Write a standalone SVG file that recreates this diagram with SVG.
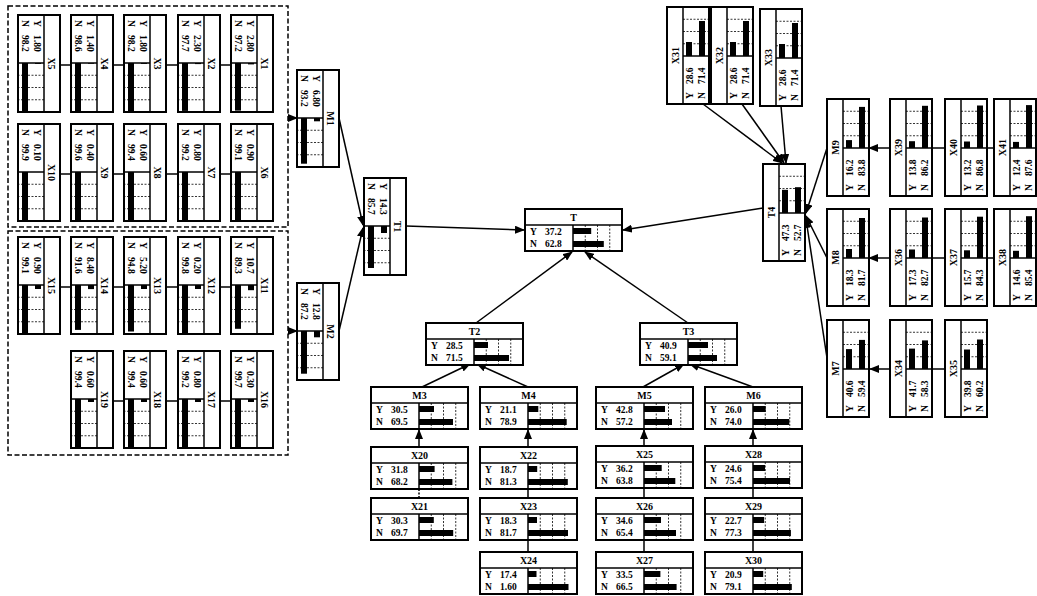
<svg xmlns="http://www.w3.org/2000/svg" xmlns:xlink="http://www.w3.org/1999/xlink" width="1037" height="596" viewBox="0 0 1037 596">
<style>
.box{fill:#fff;stroke:#000;stroke-width:2}
.div{stroke:#000;stroke-width:1.5;fill:none}
.grid{stroke:#000;stroke-width:0.8;stroke-dasharray:2 1.5;fill:none}
.ttl{font-family:"Liberation Serif",serif;font-weight:bold;font-size:10px;text-anchor:middle}
.lbl{font-family:"Liberation Serif",serif;font-weight:bold;font-size:9.5px}
.bar{fill:#000}
.con{stroke:#000;stroke-width:1.5;fill:none}
.arr{stroke:#000;stroke-width:1.5;fill:none;marker-end:url(#ah)}
.grp{fill:none;stroke:#000;stroke-width:1.5;stroke-dasharray:5 2.5}
</style>
<defs>
<marker id="ah" markerUnits="userSpaceOnUse" markerWidth="10" markerHeight="8" refX="9" refY="4" orient="auto"><path d="M0,0 L10,4 L0,8 Z" fill="#000"/></marker>
<g id="frame">
<rect class="box" x="0" y="0" width="97" height="42"/>
<line class="div" x1="0" y1="16" x2="97" y2="16"/>
<line class="div" x1="48" y1="16" x2="48" y2="42"/>
<path class="grid" d="M60.25 16V42M72.5 16V42M84.75 16V42"/>
</g>
</defs>
<rect width="1037" height="596" fill="#fff"/>
<rect class="grp" x="8" y="6" width="280" height="221"/>
<rect class="grp" x="8" y="231" width="280" height="224"/>

<g id="connectors">
<path class="con" d="M60 65H71M113 65H124M166 65H178M220 65H231"/>
<path class="con" d="M60 174H71M113 174H124M166 174H178M220 174H231"/>
<path class="con" d="M60 287H71M113 287H124M166 287H178M220 287H231"/>
<path class="con" d="M113 401H124M166 401H178M220 401H231"/>
<path class="arr" d="M288 118H297"/>
<path class="arr" d="M288 331H297"/>
<path class="arr" d="M339 118L363 225"/>
<path class="arr" d="M339 331L363 228"/>
<path class="arr" d="M406 226L524 230"/>
<path class="arr" d="M476 323L572 252"/>
<path class="arr" d="M688 323L585 252"/>
<path class="arr" d="M763 208L623 230"/>
<path class="arr" d="M422 387L470 364"/>
<path class="arr" d="M528 387L477 364"/>
<path class="arr" d="M643 387L684 364"/>
<path class="arr" d="M753 387L690 364"/>
<path class="arr" d="M419 447V430"/>
<path class="con" d="M419 498V489" stroke-dasharray="2 1.5"/>
<path class="arr" d="M528 447V430"/>
<path class="con" d="M528 498V489M528 552V540"/>
<path class="arr" d="M644 446V430"/>
<path class="con" d="M644 498V488M644 552V540"/>
<path class="arr" d="M753 446V430"/>
<path class="con" d="M753 498V488M753 552V540"/>
<path class="arr" d="M703 104L782 163"/>
<path class="arr" d="M742 104L784 163"/>
<path class="arr" d="M781 106L786 163"/>
<path class="arr" d="M827 148L806 213"/>
<path class="arr" d="M827 258L806 216"/>
<path class="arr" d="M827 358L806 219"/>
<path class="arr" d="M890 148H869"/>
<path class="con" d="M945 148H932M994 148H987"/>
<path class="arr" d="M890 258H869"/>
<path class="con" d="M945 258H932M994 258H987"/>
<path class="arr" d="M890 369H870"/>
<path class="con" d="M945 369H933"/>
</g>

<!-- horizontal nodes -->
<g id="T" transform="translate(525,209)"><use href="#frame"/><text class="ttl" x="48.5" y="12">T</text><text class="lbl" x="5" y="26">Y</text><text class="lbl" x="20" y="26">37.2</text><text class="lbl" x="5" y="38">N</text><text class="lbl" x="20" y="38">62.8</text><rect class="bar" x="48" y="19" width="18.2" height="6"/><rect class="bar" x="48" y="32" width="30.8" height="6"/></g>
<g id="T2" transform="translate(426,323)"><use href="#frame"/><text class="ttl" x="48.5" y="12">T2</text><text class="lbl" x="5" y="26">Y</text><text class="lbl" x="20" y="26">28.5</text><text class="lbl" x="5" y="38">N</text><text class="lbl" x="20" y="38">71.5</text><rect class="bar" x="48" y="19" width="14" height="6"/><rect class="bar" x="48" y="32" width="35" height="6"/></g>
<g id="T3" transform="translate(640,323)"><use href="#frame"/><text class="ttl" x="48.5" y="12">T3</text><text class="lbl" x="5" y="26">Y</text><text class="lbl" x="20" y="26">40.9</text><text class="lbl" x="5" y="38">N</text><text class="lbl" x="20" y="38">59.1</text><rect class="bar" x="48" y="19" width="20" height="6"/><rect class="bar" x="48" y="32" width="29" height="6"/></g>
<g id="M3" transform="translate(371,387)"><use href="#frame"/><text class="ttl" x="48.5" y="12">M3</text><text class="lbl" x="5" y="26">Y</text><text class="lbl" x="20" y="26">30.5</text><text class="lbl" x="5" y="38">N</text><text class="lbl" x="20" y="38">69.5</text><rect class="bar" x="48" y="19" width="15" height="6"/><rect class="bar" x="48" y="32" width="34" height="6"/></g>
<g id="M4" transform="translate(480,387)"><use href="#frame"/><text class="ttl" x="48.5" y="12">M4</text><text class="lbl" x="5" y="26">Y</text><text class="lbl" x="20" y="26">21.1</text><text class="lbl" x="5" y="38">N</text><text class="lbl" x="20" y="38">78.9</text><rect class="bar" x="48" y="19" width="10.3" height="6"/><rect class="bar" x="48" y="32" width="38.7" height="6"/></g>
<g id="M5" transform="translate(596,387)"><use href="#frame"/><text class="ttl" x="48.5" y="12">M5</text><text class="lbl" x="5" y="26">Y</text><text class="lbl" x="20" y="26">42.8</text><text class="lbl" x="5" y="38">N</text><text class="lbl" x="20" y="38">57.2</text><rect class="bar" x="48" y="19" width="21" height="6"/><rect class="bar" x="48" y="32" width="28" height="6"/></g>
<g id="M6" transform="translate(705,387)"><use href="#frame"/><text class="ttl" x="48.5" y="12">M6</text><text class="lbl" x="5" y="26">Y</text><text class="lbl" x="20" y="26">26.0</text><text class="lbl" x="5" y="38">N</text><text class="lbl" x="20" y="38">74.0</text><rect class="bar" x="48" y="19" width="12.7" height="6"/><rect class="bar" x="48" y="32" width="36.3" height="6"/></g>
<g id="X20" transform="translate(371,447)"><use href="#frame"/><text class="ttl" x="48.5" y="12">X20</text><text class="lbl" x="5" y="26">Y</text><text class="lbl" x="20" y="26">31.8</text><text class="lbl" x="5" y="38">N</text><text class="lbl" x="20" y="38">68.2</text><rect class="bar" x="48" y="19" width="15.6" height="6"/><rect class="bar" x="48" y="32" width="33.4" height="6"/></g>
<g id="X21" transform="translate(371,498)"><use href="#frame"/><text class="ttl" x="48.5" y="12">X21</text><text class="lbl" x="5" y="26">Y</text><text class="lbl" x="20" y="26">30.3</text><text class="lbl" x="5" y="38">N</text><text class="lbl" x="20" y="38">69.7</text><rect class="bar" x="48" y="19" width="14.8" height="6"/><rect class="bar" x="48" y="32" width="34.2" height="6"/></g>
<g id="X22" transform="translate(480,447)"><use href="#frame"/><text class="ttl" x="48.5" y="12">X22</text><text class="lbl" x="5" y="26">Y</text><text class="lbl" x="20" y="26">18.7</text><text class="lbl" x="5" y="38">N</text><text class="lbl" x="20" y="38">81.3</text><rect class="bar" x="48" y="19" width="9.2" height="6"/><rect class="bar" x="48" y="32" width="39.8" height="6"/></g>
<g id="X23" transform="translate(480,498)"><use href="#frame"/><text class="ttl" x="48.5" y="12">X23</text><text class="lbl" x="5" y="26">Y</text><text class="lbl" x="20" y="26">18.3</text><text class="lbl" x="5" y="38">N</text><text class="lbl" x="20" y="38">81.7</text><rect class="bar" x="48" y="19" width="9" height="6"/><rect class="bar" x="48" y="32" width="40" height="6"/></g>
<g id="X24" transform="translate(480,552)"><use href="#frame"/><text class="ttl" x="48.5" y="12">X24</text><text class="lbl" x="5" y="26">Y</text><text class="lbl" x="20" y="26">17.4</text><text class="lbl" x="5" y="38">N</text><text class="lbl" x="20" y="38">1.60</text><rect class="bar" x="48" y="19" width="8.5" height="6"/><rect class="bar" x="48" y="32" width="40.5" height="6"/></g>
<g id="X25" transform="translate(596,446)"><use href="#frame"/><text class="ttl" x="48.5" y="12">X25</text><text class="lbl" x="5" y="26">Y</text><text class="lbl" x="20" y="26">36.2</text><text class="lbl" x="5" y="38">N</text><text class="lbl" x="20" y="38">63.8</text><rect class="bar" x="48" y="19" width="17.7" height="6"/><rect class="bar" x="48" y="32" width="31.3" height="6"/></g>
<g id="X26" transform="translate(596,498)"><use href="#frame"/><text class="ttl" x="48.5" y="12">X26</text><text class="lbl" x="5" y="26">Y</text><text class="lbl" x="20" y="26">34.6</text><text class="lbl" x="5" y="38">N</text><text class="lbl" x="20" y="38">65.4</text><rect class="bar" x="48" y="19" width="17" height="6"/><rect class="bar" x="48" y="32" width="32" height="6"/></g>
<g id="X27" transform="translate(596,552)"><use href="#frame"/><text class="ttl" x="48.5" y="12">X27</text><text class="lbl" x="5" y="26">Y</text><text class="lbl" x="20" y="26">33.5</text><text class="lbl" x="5" y="38">N</text><text class="lbl" x="20" y="38">66.5</text><rect class="bar" x="48" y="19" width="16.4" height="6"/><rect class="bar" x="48" y="32" width="32.6" height="6"/></g>
<g id="X28" transform="translate(705,446)"><use href="#frame"/><text class="ttl" x="48.5" y="12">X28</text><text class="lbl" x="5" y="26">Y</text><text class="lbl" x="20" y="26">24.6</text><text class="lbl" x="5" y="38">N</text><text class="lbl" x="20" y="38">75.4</text><rect class="bar" x="48" y="19" width="12" height="6"/><rect class="bar" x="48" y="32" width="37" height="6"/></g>
<g id="X29" transform="translate(705,498)"><use href="#frame"/><text class="ttl" x="48.5" y="12">X29</text><text class="lbl" x="5" y="26">Y</text><text class="lbl" x="20" y="26">22.7</text><text class="lbl" x="5" y="38">N</text><text class="lbl" x="20" y="38">77.3</text><rect class="bar" x="48" y="19" width="11.1" height="6"/><rect class="bar" x="48" y="32" width="37.9" height="6"/></g>
<g id="X30" transform="translate(705,552)"><use href="#frame"/><text class="ttl" x="48.5" y="12">X30</text><text class="lbl" x="5" y="26">Y</text><text class="lbl" x="20" y="26">20.9</text><text class="lbl" x="5" y="38">N</text><text class="lbl" x="20" y="38">79.1</text><rect class="bar" x="48" y="19" width="10.2" height="6"/><rect class="bar" x="48" y="32" width="38.8" height="6"/></g>

<!-- left nodes, rotated clockwise -->
<g id="X5" transform="translate(60,15) rotate(90)"><use href="#frame"/><text class="ttl" x="48.5" y="12">X5</text><text class="lbl" x="5" y="26">Y</text><text class="lbl" x="20" y="26">1.80</text><text class="lbl" x="5" y="38">N</text><text class="lbl" x="20" y="38">98.2</text><rect class="bar" x="48" y="19" width="0.9" height="6"/><rect class="bar" x="48" y="32" width="48.1" height="6"/></g>
<g id="X4" transform="translate(113,15) rotate(90)"><use href="#frame"/><text class="ttl" x="48.5" y="12">X4</text><text class="lbl" x="5" y="26">Y</text><text class="lbl" x="20" y="26">1.40</text><text class="lbl" x="5" y="38">N</text><text class="lbl" x="20" y="38">98.6</text><rect class="bar" x="48" y="19" width="0.7" height="6"/><rect class="bar" x="48" y="32" width="48.3" height="6"/></g>
<g id="X3" transform="translate(166,15) rotate(90)"><use href="#frame"/><text class="ttl" x="48.5" y="12">X3</text><text class="lbl" x="5" y="26">Y</text><text class="lbl" x="20" y="26">1.80</text><text class="lbl" x="5" y="38">N</text><text class="lbl" x="20" y="38">98.2</text><rect class="bar" x="48" y="19" width="0.9" height="6"/><rect class="bar" x="48" y="32" width="48.1" height="6"/></g>
<g id="X2" transform="translate(220,15) rotate(90)"><use href="#frame"/><text class="ttl" x="48.5" y="12">X2</text><text class="lbl" x="5" y="26">Y</text><text class="lbl" x="20" y="26">2.30</text><text class="lbl" x="5" y="38">N</text><text class="lbl" x="20" y="38">97.7</text><rect class="bar" x="48" y="19" width="1.1" height="6"/><rect class="bar" x="48" y="32" width="47.9" height="6"/></g>
<g id="X1" transform="translate(273,15) rotate(90)"><use href="#frame"/><text class="ttl" x="48.5" y="12">X1</text><text class="lbl" x="5" y="26">Y</text><text class="lbl" x="20" y="26">2.80</text><text class="lbl" x="5" y="38">N</text><text class="lbl" x="20" y="38">97.2</text><rect class="bar" x="48" y="19" width="1.4" height="6"/><rect class="bar" x="48" y="32" width="47.6" height="6"/></g>
<g id="X10" transform="translate(60,124) rotate(90)"><use href="#frame"/><text class="ttl" x="48.5" y="12">X10</text><text class="lbl" x="5" y="26">Y</text><text class="lbl" x="20" y="26">0.10</text><text class="lbl" x="5" y="38">N</text><text class="lbl" x="20" y="38">99.9</text><rect class="bar" x="48" y="32" width="49" height="6"/></g>
<g id="X9" transform="translate(113,124) rotate(90)"><use href="#frame"/><text class="ttl" x="48.5" y="12">X9</text><text class="lbl" x="5" y="26">Y</text><text class="lbl" x="20" y="26">0.40</text><text class="lbl" x="5" y="38">N</text><text class="lbl" x="20" y="38">99.6</text><rect class="bar" x="48" y="32" width="48.8" height="6"/></g>
<g id="X8" transform="translate(166,124) rotate(90)"><use href="#frame"/><text class="ttl" x="48.5" y="12">X8</text><text class="lbl" x="5" y="26">Y</text><text class="lbl" x="20" y="26">0.60</text><text class="lbl" x="5" y="38">N</text><text class="lbl" x="20" y="38">99.4</text><rect class="bar" x="48" y="32" width="48.7" height="6"/></g>
<g id="X7" transform="translate(220,124) rotate(90)"><use href="#frame"/><text class="ttl" x="48.5" y="12">X7</text><text class="lbl" x="5" y="26">Y</text><text class="lbl" x="20" y="26">0.80</text><text class="lbl" x="5" y="38">N</text><text class="lbl" x="20" y="38">99.2</text><rect class="bar" x="48" y="32" width="48.6" height="6"/></g>
<g id="X6" transform="translate(273,124) rotate(90)"><use href="#frame"/><text class="ttl" x="48.5" y="12">X6</text><text class="lbl" x="5" y="26">Y</text><text class="lbl" x="20" y="26">0.90</text><text class="lbl" x="5" y="38">N</text><text class="lbl" x="20" y="38">99.1</text><rect class="bar" x="48" y="32" width="48.6" height="6"/></g>
<g id="X15" transform="translate(60,237) rotate(90)"><use href="#frame"/><text class="ttl" x="48.5" y="12">X15</text><text class="lbl" x="5" y="26">Y</text><text class="lbl" x="20" y="26">0.90</text><text class="lbl" x="5" y="38">N</text><text class="lbl" x="20" y="38">99.1</text><rect class="bar" x="48" y="19" width="4" height="6"/><rect class="bar" x="48" y="32" width="48.6" height="6"/></g>
<g id="X14" transform="translate(113,237) rotate(90)"><use href="#frame"/><text class="ttl" x="48.5" y="12">X14</text><text class="lbl" x="5" y="26">Y</text><text class="lbl" x="20" y="26">8.40</text><text class="lbl" x="5" y="38">N</text><text class="lbl" x="20" y="38">91.6</text><rect class="bar" x="48" y="19" width="4.1" height="6"/><rect class="bar" x="48" y="32" width="44.9" height="6"/></g>
<g id="X13" transform="translate(166,237) rotate(90)"><use href="#frame"/><text class="ttl" x="48.5" y="12">X13</text><text class="lbl" x="5" y="26">Y</text><text class="lbl" x="20" y="26">5.20</text><text class="lbl" x="5" y="38">N</text><text class="lbl" x="20" y="38">94.8</text><rect class="bar" x="48" y="19" width="4" height="6"/><rect class="bar" x="48" y="32" width="46.5" height="6"/></g>
<g id="X12" transform="translate(220,237) rotate(90)"><use href="#frame"/><text class="ttl" x="48.5" y="12">X12</text><text class="lbl" x="5" y="26">Y</text><text class="lbl" x="20" y="26">0.20</text><text class="lbl" x="5" y="38">N</text><text class="lbl" x="20" y="38">99.8</text><rect class="bar" x="48" y="19" width="4" height="6"/><rect class="bar" x="48" y="32" width="48.9" height="6"/></g>
<g id="X11" transform="translate(273,237) rotate(90)"><use href="#frame"/><text class="ttl" x="48.5" y="12">X11</text><text class="lbl" x="5" y="26">Y</text><text class="lbl" x="20" y="26">10.7</text><text class="lbl" x="5" y="38">N</text><text class="lbl" x="20" y="38">89.3</text><rect class="bar" x="48" y="19" width="5.2" height="6"/><rect class="bar" x="48" y="32" width="43.8" height="6"/></g>
<g id="X19" transform="translate(113,351) rotate(90)"><use href="#frame"/><text class="ttl" x="48.5" y="12">X19</text><text class="lbl" x="5" y="26">Y</text><text class="lbl" x="20" y="26">0.60</text><text class="lbl" x="5" y="38">N</text><text class="lbl" x="20" y="38">99.4</text><rect class="bar" x="48" y="19" width="3" height="6"/><rect class="bar" x="48" y="32" width="48.7" height="6"/></g>
<g id="X18" transform="translate(166,351) rotate(90)"><use href="#frame"/><text class="ttl" x="48.5" y="12">X18</text><text class="lbl" x="5" y="26">Y</text><text class="lbl" x="20" y="26">0.60</text><text class="lbl" x="5" y="38">N</text><text class="lbl" x="20" y="38">99.4</text><rect class="bar" x="48" y="19" width="3" height="6"/><rect class="bar" x="48" y="32" width="48.7" height="6"/></g>
<g id="X17" transform="translate(220,351) rotate(90)"><use href="#frame"/><text class="ttl" x="48.5" y="12">X17</text><text class="lbl" x="5" y="26">Y</text><text class="lbl" x="20" y="26">0.80</text><text class="lbl" x="5" y="38">N</text><text class="lbl" x="20" y="38">99.2</text><rect class="bar" x="48" y="19" width="3" height="6"/><rect class="bar" x="48" y="32" width="48.6" height="6"/></g>
<g id="X16" transform="translate(273,351) rotate(90)"><use href="#frame"/><text class="ttl" x="48.5" y="12">X16</text><text class="lbl" x="5" y="26">Y</text><text class="lbl" x="20" y="26">0.30</text><text class="lbl" x="5" y="38">N</text><text class="lbl" x="20" y="38">99.7</text><rect class="bar" x="48" y="19" width="3" height="6"/><rect class="bar" x="48" y="32" width="48.9" height="6"/></g>
<g id="M1" transform="translate(339,70) rotate(90)"><use href="#frame"/><text class="ttl" x="48.5" y="12">M1</text><text class="lbl" x="5" y="26">Y</text><text class="lbl" x="20" y="26">6.80</text><text class="lbl" x="5" y="38">N</text><text class="lbl" x="20" y="38">93.2</text><rect class="bar" x="48" y="19" width="3.3" height="6"/><rect class="bar" x="48" y="32" width="45.7" height="6"/></g>
<g id="M2" transform="translate(339,283) rotate(90)"><use href="#frame"/><text class="ttl" x="48.5" y="12">M2</text><text class="lbl" x="5" y="26">Y</text><text class="lbl" x="20" y="26">12.8</text><text class="lbl" x="5" y="38">N</text><text class="lbl" x="20" y="38">87.2</text><rect class="bar" x="48" y="19" width="6.3" height="6"/><rect class="bar" x="48" y="32" width="42.7" height="6"/></g>
<g id="T1" transform="translate(406,178) rotate(90)"><use href="#frame"/><text class="ttl" x="48.5" y="12">T1</text><text class="lbl" x="5" y="26">Y</text><text class="lbl" x="20" y="26">14.3</text><text class="lbl" x="5" y="38">N</text><text class="lbl" x="20" y="38">85.7</text><rect class="bar" x="48" y="19" width="7" height="6"/><rect class="bar" x="48" y="32" width="42" height="6"/></g>

<!-- right nodes, rotated counter-clockwise -->
<g id="X31" transform="translate(667,104) rotate(-90)"><use href="#frame"/><text class="ttl" x="48.5" y="12">X31</text><text class="lbl" x="5" y="26">Y</text><text class="lbl" x="20" y="26">28.6</text><text class="lbl" x="5" y="38">N</text><text class="lbl" x="20" y="38">71.4</text><rect class="bar" x="48" y="19" width="14" height="6"/><rect class="bar" x="48" y="32" width="35" height="6"/></g>
<g id="X32" transform="translate(711,104) rotate(-90)"><use href="#frame"/><text class="ttl" x="48.5" y="12">X32</text><text class="lbl" x="5" y="26">Y</text><text class="lbl" x="20" y="26">28.6</text><text class="lbl" x="5" y="38">N</text><text class="lbl" x="20" y="38">71.4</text><rect class="bar" x="48" y="19" width="14" height="6"/><rect class="bar" x="48" y="32" width="35" height="6"/></g>
<g id="X33" transform="translate(760,106) rotate(-90)"><use href="#frame"/><text class="ttl" x="48.5" y="12">X33</text><text class="lbl" x="5" y="26">Y</text><text class="lbl" x="20" y="26">28.6</text><text class="lbl" x="5" y="38">N</text><text class="lbl" x="20" y="38">71.4</text><rect class="bar" x="48" y="19" width="14" height="6"/><rect class="bar" x="48" y="32" width="35" height="6"/></g>
<g id="T4" transform="translate(763,261) rotate(-90)"><use href="#frame"/><text class="ttl" x="48.5" y="12">T4</text><text class="lbl" x="5" y="26">Y</text><text class="lbl" x="20" y="26">47.3</text><text class="lbl" x="5" y="38">N</text><text class="lbl" x="20" y="38">52.7</text><rect class="bar" x="48" y="19" width="23.2" height="6"/><rect class="bar" x="48" y="32" width="25.8" height="6"/></g>
<g id="M9" transform="translate(827,196) rotate(-90)"><use href="#frame"/><text class="ttl" x="48.5" y="12">M9</text><text class="lbl" x="5" y="26">Y</text><text class="lbl" x="20" y="26">16.2</text><text class="lbl" x="5" y="38">N</text><text class="lbl" x="20" y="38">83.8</text><rect class="bar" x="48" y="19" width="7.9" height="6"/><rect class="bar" x="48" y="32" width="41.1" height="6"/></g>
<g id="X39" transform="translate(890,196) rotate(-90)"><use href="#frame"/><text class="ttl" x="48.5" y="12">X39</text><text class="lbl" x="5" y="26">Y</text><text class="lbl" x="20" y="26">13.8</text><text class="lbl" x="5" y="38">N</text><text class="lbl" x="20" y="38">86.2</text><rect class="bar" x="48" y="19" width="6.8" height="6"/><rect class="bar" x="48" y="32" width="42.2" height="6"/></g>
<g id="X40" transform="translate(945,196) rotate(-90)"><use href="#frame"/><text class="ttl" x="48.5" y="12">X40</text><text class="lbl" x="5" y="26">Y</text><text class="lbl" x="20" y="26">13.2</text><text class="lbl" x="5" y="38">N</text><text class="lbl" x="20" y="38">86.8</text><rect class="bar" x="48" y="19" width="6.5" height="6"/><rect class="bar" x="48" y="32" width="42.5" height="6"/></g>
<g id="X41" transform="translate(994,196) rotate(-90)"><use href="#frame"/><text class="ttl" x="48.5" y="12">X41</text><text class="lbl" x="5" y="26">Y</text><text class="lbl" x="20" y="26">12.4</text><text class="lbl" x="5" y="38">N</text><text class="lbl" x="20" y="38">87.6</text><rect class="bar" x="48" y="19" width="6.1" height="6"/><rect class="bar" x="48" y="32" width="42.9" height="6"/></g>
<g id="M8" transform="translate(827,306) rotate(-90)"><use href="#frame"/><text class="ttl" x="48.5" y="12">M8</text><text class="lbl" x="5" y="26">Y</text><text class="lbl" x="20" y="26">18.3</text><text class="lbl" x="5" y="38">N</text><text class="lbl" x="20" y="38">81.7</text><rect class="bar" x="48" y="19" width="9" height="6"/><rect class="bar" x="48" y="32" width="40" height="6"/></g>
<g id="X36" transform="translate(890,306) rotate(-90)"><use href="#frame"/><text class="ttl" x="48.5" y="12">X36</text><text class="lbl" x="5" y="26">Y</text><text class="lbl" x="20" y="26">17.3</text><text class="lbl" x="5" y="38">N</text><text class="lbl" x="20" y="38">82.7</text><rect class="bar" x="48" y="19" width="8.5" height="6"/><rect class="bar" x="48" y="32" width="40.5" height="6"/></g>
<g id="X37" transform="translate(945,306) rotate(-90)"><use href="#frame"/><text class="ttl" x="48.5" y="12">X37</text><text class="lbl" x="5" y="26">Y</text><text class="lbl" x="20" y="26">15.7</text><text class="lbl" x="5" y="38">N</text><text class="lbl" x="20" y="38">84.3</text><rect class="bar" x="48" y="19" width="7.7" height="6"/><rect class="bar" x="48" y="32" width="41.3" height="6"/></g>
<g id="X38" transform="translate(994,306) rotate(-90)"><use href="#frame"/><text class="ttl" x="48.5" y="12">X38</text><text class="lbl" x="5" y="26">Y</text><text class="lbl" x="20" y="26">14.6</text><text class="lbl" x="5" y="38">N</text><text class="lbl" x="20" y="38">85.4</text><rect class="bar" x="48" y="19" width="7.2" height="6"/><rect class="bar" x="48" y="32" width="41.8" height="6"/></g>
<g id="M7" transform="translate(827,417) rotate(-90)"><use href="#frame"/><text class="ttl" x="48.5" y="12">M7</text><text class="lbl" x="5" y="26">Y</text><text class="lbl" x="20" y="26">40.6</text><text class="lbl" x="5" y="38">N</text><text class="lbl" x="20" y="38">59.4</text><rect class="bar" x="48" y="19" width="19.9" height="6"/><rect class="bar" x="48" y="32" width="29.1" height="6"/></g>
<g id="X34" transform="translate(890,417) rotate(-90)"><use href="#frame"/><text class="ttl" x="48.5" y="12">X34</text><text class="lbl" x="5" y="26">Y</text><text class="lbl" x="20" y="26">41.7</text><text class="lbl" x="5" y="38">N</text><text class="lbl" x="20" y="38">58.3</text><rect class="bar" x="48" y="19" width="20.4" height="6"/><rect class="bar" x="48" y="32" width="28.6" height="6"/></g>
<g id="X35" transform="translate(945,417) rotate(-90)"><use href="#frame"/><text class="ttl" x="48.5" y="12">X35</text><text class="lbl" x="5" y="26">Y</text><text class="lbl" x="20" y="26">39.8</text><text class="lbl" x="5" y="38">N</text><text class="lbl" x="20" y="38">60.2</text><rect class="bar" x="48" y="19" width="19.5" height="6"/><rect class="bar" x="48" y="32" width="29.5" height="6"/></g>
</svg>
